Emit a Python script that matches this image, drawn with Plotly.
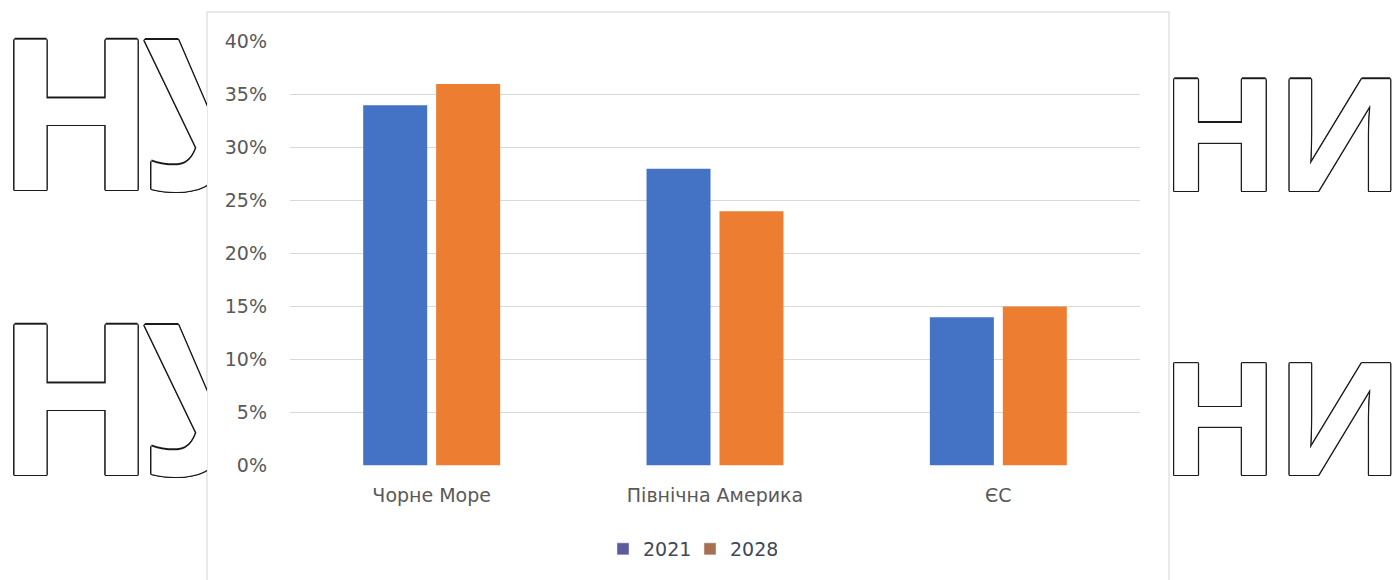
import plotly.graph_objects as go

# ---------------- data ----------------
categories = ["Чорне Море", "Північна Америка", "ЄС"]
series_names = ["2021", "2028"]
values_2021 = [0.34, 0.28, 0.14]
values_2028 = [0.36, 0.24, 0.15]
y_tick_values = [0, 0.05, 0.10, 0.15, 0.20, 0.25, 0.30, 0.35, 0.40]

# watermark letters (background text)
wm_left_letters = ["Н", "У", "Н", "У"]
wm_left_x = [76, 212, 76, 212]
wm_left_y = [137, 137, 422, 422]
wm_right_letters = ["Н", "И", "Н", "И"]
wm_right_x = [1220, 1340, 1220, 1340]
wm_right_y = [151.5, 151.5, 436, 436]

# ---------------- style ----------------
W, H = 1392, 580
BAR_COLORS = ["#4472C4", "#ED7D31"]
LEGEND_COLORS = ["#5B5B9E", "#A8704E"]
TXT = "#595959"
FONT = "DejaVu Sans"
WM_FONT = "Open Sans"


def px(x):
    return x / W


def py(y):
    return (H - y) / H


OUTLINE = ", ".join(
    f"{dx}px {dy}px 0 #1a1a1a"
    for dx, dy in [(1, 1), (-1, -1), (1, -1), (-1, 1), (1.3, 0), (-1.3, 0), (0, 1.3), (0, -1.3)]
)

fig = go.Figure()

# watermark text, clipped to the regions outside the chart box
fig.add_trace(go.Scatter(
    x=wm_left_x, y=wm_left_y, text=wm_left_letters, mode="text",
    textposition="middle center", cliponaxis=True, hoverinfo="skip",
    textfont=dict(family=WM_FONT, size=210, color="white", weight="bold", shadow=OUTLINE),
    xaxis="x2", yaxis="y2", showlegend=False,
))
fig.add_trace(go.Scatter(
    x=wm_right_x, y=wm_right_y, text=wm_right_letters, mode="text",
    textposition="middle center", cliponaxis=True, hoverinfo="skip",
    textfont=dict(family=WM_FONT, size=156, color="white", weight="bold", shadow=OUTLINE),
    xaxis="x3", yaxis="y3", showlegend=False,
))

# main bars
for name, vals, col in zip(series_names, [values_2021, values_2028], BAR_COLORS):
    fig.add_trace(go.Bar(
        x=categories, y=vals, name=name, marker=dict(color=col, line=dict(width=0)),
        showlegend=False, hovertemplate="%{x}: %{y:.0%}<extra>" + name + "</extra>",
    ))

# legend entries (legend swatches are drawn in their own muted colours)
for name, col in zip(series_names, LEGEND_COLORS):
    fig.add_trace(go.Bar(
        x=[-1000], y=[0], name=name, marker=dict(color=col),
        xaxis="x2", yaxis="y2", showlegend=True, hoverinfo="skip",
    ))

fig.update_layout(
    width=W, height=H,
    margin=dict(l=0, r=0, t=0, b=0, pad=0, autoexpand=False),
    paper_bgcolor="white", plot_bgcolor="rgba(0,0,0,0)",
    font=dict(family=FONT, size=19, color=TXT),
    barmode="group", bargap=0.485, bargroupgap=0.123,
    xaxis=dict(
        domain=[px(290), px(1140)], showgrid=False, showline=False, zeroline=False,
        ticks="", ticklabelstandoff=16, tickfont=dict(size=19, color=TXT),
        automargin=False,
    ),
    yaxis=dict(
        domain=[py(465.5), py(41.7)], range=[0, 0.4], tickvals=y_tick_values,
        tickformat=".0%", showgrid=True, gridcolor="#D9D9D9", gridwidth=1,
        zeroline=False, showline=False, ticks="", ticklabelstandoff=22,
        tickfont=dict(size=19, color=TXT), automargin=False,
    ),
    xaxis2=dict(domain=[0, px(207)], range=[0, 207], visible=False, fixedrange=True,
                automargin=False),
    yaxis2=dict(domain=[0, 1], range=[H, 0], visible=False, fixedrange=True, anchor="x2",
                automargin=False),
    xaxis3=dict(domain=[px(1169), 1], range=[1169, W], visible=False, fixedrange=True,
                automargin=False),
    yaxis3=dict(domain=[0, 1], range=[H, 0], visible=False, fixedrange=True, anchor="x3",
                automargin=False),
    legend=dict(
        orientation="h", x=0.4957, xanchor="center", y=py(549), yanchor="middle",
        font=dict(size=19, color="#404858"), bgcolor="rgba(0,0,0,0)",
        entrywidth=42,
    ),
    shapes=[dict(
        type="rect", xref="paper", yref="paper", x0=px(207), x1=px(1169),
        y0=-0.05, y1=py(12), line=dict(color="#E2E2E2", width=1.5),
        fillcolor="white", layer="below",
    )],
)
fig.update_layout(xaxis2_anchor="y2", xaxis3_anchor="y3")

fig.write_html("out.html")
